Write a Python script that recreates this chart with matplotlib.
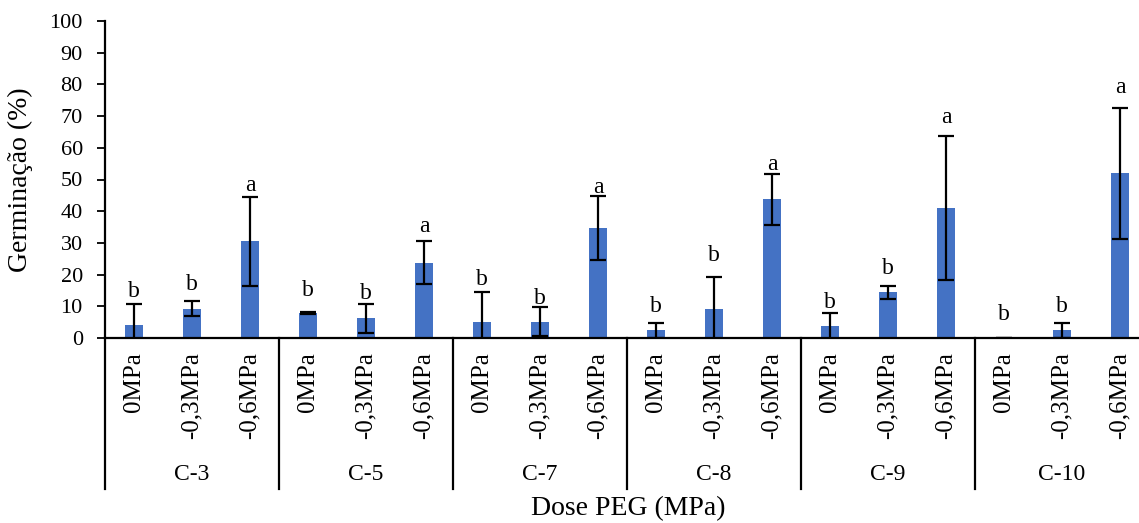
import matplotlib.pyplot as plt
import matplotlib.transforms as mtransforms
import numpy as np

plt.rcParams['font.family'] = ['Liberation Serif', 'DejaVu Serif']

# Data
groups = ["C-3", "C-5", "C-7", "C-8", "C-9", "C-10"]
doses = ["0MPa", "-0,3MPa", "-0,6MPa"]
germ = [4.0, 9.3, 30.5,
        7.9, 6.2, 23.8,
        5.1, 5.1, 34.7,
        2.4, 9.3, 43.7,
        3.8, 14.4, 41.0,
        0.0, 2.4, 51.9]
err = [6.8, 2.3, 14.0,
       0.2, 4.6, 6.9,
       9.5, 4.6, 10.0,
       2.3, 9.9, 7.9,
       4.2, 2.1, 22.7,
       0.0, 2.3, 20.6]
letters = ["b", "b", "a"] * 6
letter_y = [12.9, 15.2, 46.5,
            13.3, 12.2, 33.4,
            16.6, 10.8, 45.7,
            8.2, 24.3, 53.1,
            9.6, 20.3, 67.8,
            5.8, 8.2, 77.3]

fig = plt.figure(figsize=(11.39, 5.23), dpi=100)
ax = fig.add_axes([105 / 1139, 185 / 523, 1044 / 1139, 317 / 523])

x = np.arange(len(germ))
ax.bar(x, germ, width=0.32, color="#4472C4", zorder=2)
ax.errorbar(x, germ, yerr=err, fmt="none", ecolor="black", elinewidth=1.6,
            capsize=5.5, capthick=1.6, zorder=3)

for xi, lab, ly in zip(x, letters, letter_y):
    ax.text(xi, ly, lab, ha="center", va="baseline", fontsize=17)

ax.set_xlim(-0.5, len(germ) - 0.5)
ax.set_ylim(0, 100)
ax.set_yticks(np.arange(0, 101, 10))
ax.tick_params(axis="y", labelsize=16, length=6, width=1.3, pad=10)

ax.set_xticks(x)
ax.set_xticklabels(doses * len(groups), rotation=90, fontsize=18)
ax.tick_params(axis="x", length=0, pad=10)

for s in ["top", "right"]:
    ax.spines[s].set_visible(False)
ax.spines["left"].set_linewidth(1.6)
ax.spines["bottom"].set_linewidth(1.6)

# grouped category axis
trans = mtransforms.blended_transform_factory(ax.transData, ax.transAxes)
for i, g in enumerate(groups):
    ax.text(i * 3 + 1, -0.432, g, transform=trans, ha="center", va="center",
            fontsize=17)
for i in range(len(groups) + 1):
    ax.plot([i * 3 - 0.5, i * 3 - 0.5], [0, -0.475], transform=trans,
            color="black", lw=1.6, clip_on=False)

ax.set_ylabel("Germinação (%)", fontsize=20)
ax.yaxis.set_label_coords(-0.069, 0.5)
fig.text(628 / 1139, 0.027, "Dose PEG (MPa)", ha="center", va="center",
         fontsize=20)

fig.savefig("out.png", dpi=100)
